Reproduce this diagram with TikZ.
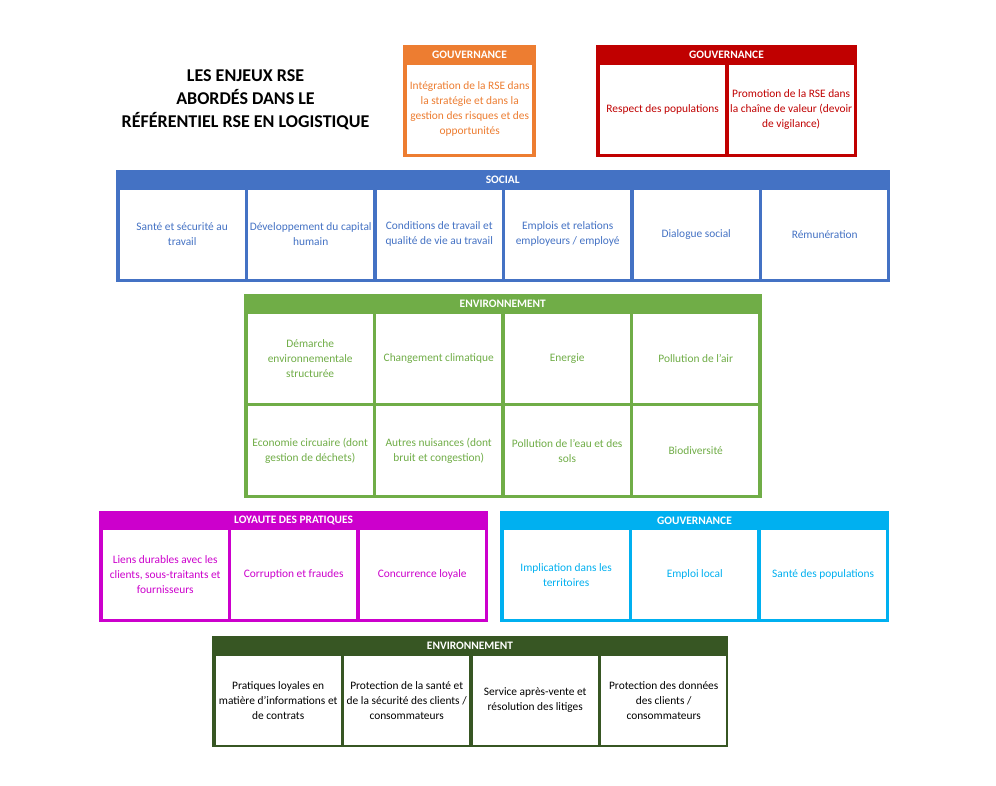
\documentclass[tikz,border=0pt]{standalone}
\usepackage{fontspec}
\setmainfont{Carlito}
\definecolor{gouvorange}{HTML}{ED7D31}
\definecolor{gouvred}{HTML}{C00000}
\definecolor{socblue}{HTML}{4472C4}
\definecolor{envgreen}{HTML}{70AD47}
\definecolor{loymagenta}{HTML}{CC00CC}
\definecolor{gouvcyan}{HTML}{00B0F0}
\definecolor{envdark}{HTML}{375623}
\tikzset{
  headtext/.style={text=white, font=\bfseries\fontsize{11.4}{13}\selectfont, inner sep=0pt},
  cellbox/.style={fill=white, anchor=north west, minimum width=125pt, minimum height=89pt,
    inner sep=0pt, align=center, font=\fontsize{11.4}{15}\selectfont, text=#1},
}
\begin{document}
\begin{tikzpicture}[x=1pt,y=-1pt]
    \useasboundingbox (0,0) rectangle (996,786);
    \node[align=center, font=\bfseries\fontsize{18}{23}\selectfont] (title) at (245.5,100)
      {LES ENJEUX RSE\\ABORDÉS DANS LE\\RÉFÉRENTIEL RSE EN LOGISTIQUE};

    \fill[gouvorange] (403,45) rectangle (536,157);
    \node[headtext] (gouv1) at (469.5,55) {GOUVERNANCE};
    \node[cellbox=gouvorange] (integ) at (407,64.5) {Intégration de la RSE dans\\la stratégie et dans la\\gestion des risques et des\\opportunités};

    \fill[gouvred] (596,45) rectangle (857,157);
    \node[headtext] (gouv2) at (726.5,55) {GOUVERNANCE};
    \node[cellbox=gouvred] (respect) at (600,64.5) {Respect des populations};
    \node[cellbox=gouvred] (promo) at (728.5,64.5) {Promotion de la RSE dans\\la chaîne de valeur (devoir\\de vigilance)};

    \fill[socblue] (116,170) rectangle (889.5,282);
    \node[headtext] (social) at (502.75,180) {SOCIAL};
    \node[cellbox=socblue] (sante) at (119.5,189.5) {Santé et sécurité au\\travail};
    \node[cellbox=socblue] (devcap) at (248,189.5) {Développement du capital\\humain};
    \node[cellbox=socblue] (condit) at (376.5,189.5) {Conditions de travail et\\qualité de vie au travail};
    \node[cellbox=socblue] (emplois) at (505,189.5) {Emplois et relations\\employeurs / employé};
    \node[cellbox=socblue] (dialog) at (633.5,189.5) {Dialogue social};
    \node[cellbox=socblue] (remun) at (762,189.5) {Rémunération};

    \fill[envgreen] (244,294) rectangle (761.5,498);
    \node[headtext] (env1) at (502.75,304) {ENVIRONNEMENT};
    \node[cellbox=envgreen] (demarche) at (247.5,313.5) {Démarche\\environnementale\\structurée};
    \node[cellbox=envgreen] (climat) at (376,313.5) {Changement climatique};
    \node[cellbox=envgreen] (energie) at (504.5,313.5) {Energie};
    \node[cellbox=envgreen] (air) at (633,313.5) {Pollution de l'air};
    \node[cellbox=envgreen] (circ) at (247.5,406) {Economie circuaire (dont\\gestion de déchets)};
    \node[cellbox=envgreen] (nuis) at (376,406) {Autres nuisances (dont\\bruit et congestion)};
    \node[cellbox=envgreen] (eau) at (504.5,406) {Pollution de l'eau et des\\sols};
    \node[cellbox=envgreen] (biodiv) at (633,406) {Biodiversité};

    \fill[loymagenta] (99,510.5) rectangle (488,622);
    \node[headtext] (loyaute) at (293.5,520.5) {LOYAUTE DES PRATIQUES};
    \node[cellbox=loymagenta] (liens) at (102.5,530) {Liens durables avec les\\clients, sous-traitants et\\fournisseurs};
    \node[cellbox=loymagenta] (corrup) at (231,530) {Corruption et fraudes};
    \node[cellbox=loymagenta] (concur) at (359.5,530) {Concurrence loyale};

    \fill[gouvcyan] (500,510.5) rectangle (889,622);
    \node[headtext] (gouv3) at (694.5,520.5) {GOUVERNANCE};
    \node[cellbox=gouvcyan] (implic) at (503.5,530) {Implication dans les\\territoires};
    \node[cellbox=gouvcyan] (emploc) at (632,530) {Emploi local};
    \node[cellbox=gouvcyan] (santepop) at (760.5,530) {Santé des populations};

    \fill[envdark] (212,636) rectangle (728,747);
    \node[headtext] (env2) at (470,646) {ENVIRONNEMENT};
    \node[cellbox=black] (pratiq) at (215.5,655.5) {Pratiques loyales en\\matière d'informations et\\de contrats};
    \node[cellbox=black] (protsan) at (344,655.5) {Protection de la santé et\\de la sécurité des clients /\\consommateurs};
    \node[cellbox=black] (sav) at (472.5,655.5) {Service après-vente et\\résolution des litiges};
    \node[cellbox=black] (donnees) at (601,655.5) {Protection des données\\des clients /\\consommateurs};
  \end{tikzpicture}
\end{document}
